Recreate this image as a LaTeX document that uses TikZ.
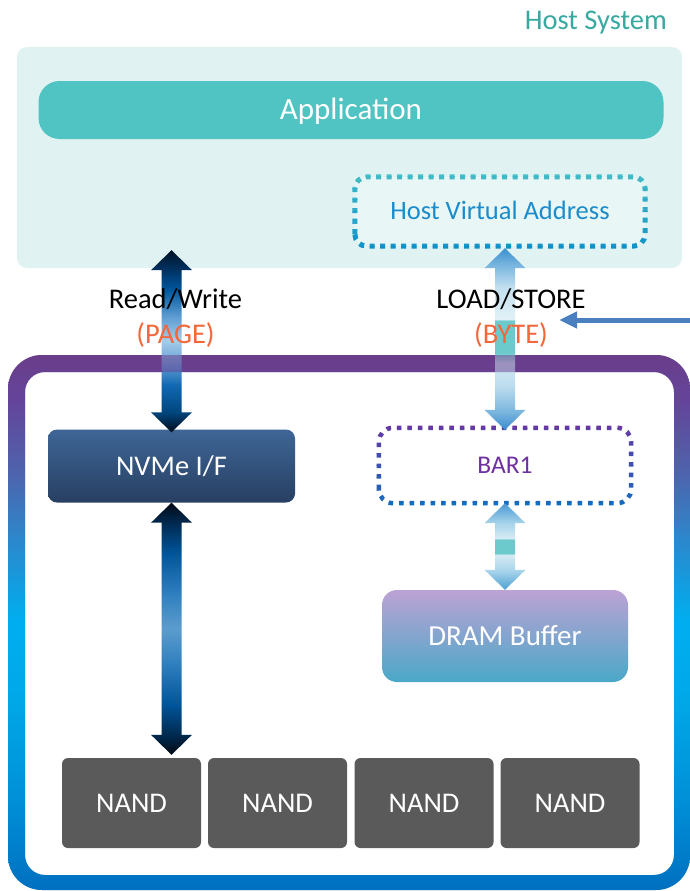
\documentclass[tikz,border=0pt]{standalone}
\usepackage{fontspec}
\setmainfont{Carlito}
\usetikzlibrary{calc,arrows.meta}

\newcommand\fsz[1]{\fontsize{#1}{#1}\selectfont}

% flat colours
\definecolor{hostbg}{HTML}{E0F3F2}
\definecolor{hvabg}{HTML}{E9F6F6}
\definecolor{appteal}{HTML}{50C3C3}
\definecolor{hostlbl}{HTML}{37A9A0}
\definecolor{hvatext}{HTML}{1A8CCB}
\definecolor{hvatop}{HTML}{4CC2C8}
\definecolor{hvabot}{HTML}{0A8CC8}
\definecolor{barpurple}{HTML}{7030A0}
\definecolor{barblue}{HTML}{0A72C2}
\definecolor{orangelbl}{HTML}{F2683A}
\definecolor{extblue}{HTML}{4A7FC0}
\definecolor{nandgray}{HTML}{5A5A5A}
\definecolor{nvmetop}{HTML}{3E6696}
\definecolor{nvmebot}{HTML}{283F62}
\definecolor{dramtop}{HTML}{BCA2D4}
\definecolor{drambot}{HTML}{4AA8C8}

% device frame gradient
\definecolor{bdA}{HTML}{0070C0}
\definecolor{bdB}{HTML}{0090D8}
\definecolor{bdC}{HTML}{00A8E8}
\definecolor{bdD}{HTML}{00AEEF}
\definecolor{bdE}{HTML}{2C88CC}
\definecolor{bdF}{HTML}{4F62AC}
\definecolor{bdG}{HTML}{64459A}
\definecolor{bdH}{HTML}{6A3D8A}
\pgfdeclareverticalshading{devborder}{100bp}{color(0bp)=(bdA); color(25bp)=(bdA);
  color(33.4bp)=(bdB); color(42.8bp)=(bdC); color(50.2bp)=(bdD); color(57.7bp)=(bdE);
  color(64.2bp)=(bdF); color(70.8bp)=(bdG); color(75bp)=(bdH); color(100bp)=(bdH)}

% host <-> NVMe arrow
\definecolor{rwK}{HTML}{000C18}
\definecolor{rwJ}{HTML}{00467E}
\definecolor{rwI}{HTML}{1068B4}
\definecolor{rwH}{HTML}{6AA2D6}
\definecolor{rwG}{HTML}{A6CCEB}
\definecolor{rwF}{HTML}{5A9AD0}
\definecolor{rwE}{HTML}{0058A0}
\definecolor{rwD}{HTML}{00305E}
\definecolor{rwC}{HTML}{021426}
\pgfdeclareverticalshading{rwup}{100bp}{color(0bp)=(rwK); color(25bp)=(rwK);
  color(30.5bp)=(rwJ); color(37.9bp)=(rwI); color(44.2bp)=(rwH); color(50.3bp)=(rwG);
  color(57.1bp)=(rwF); color(64bp)=(rwE); color(70bp)=(rwD); color(75bp)=(rwC); color(100bp)=(rwC)}

% NVMe <-> NAND arrow
\definecolor{rdA}{HTML}{000A14}
\definecolor{rdB}{HTML}{002A50}
\definecolor{rdC}{HTML}{00559A}
\definecolor{rdD}{HTML}{2F7FBF}
\definecolor{rdE}{HTML}{5C9CCD}
\pgfdeclareverticalshading{rwdown}{100bp}{color(0bp)=(rdA); color(25bp)=(rdA);
  color(29bp)=(rdB); color(35bp)=(rdC); color(43bp)=(rdD); color(50bp)=(rdE);
  color(57bp)=(rdD); color(65bp)=(rdC); color(71bp)=(rdB); color(75bp)=(rdA); color(100bp)=(rdA)}

% host virtual address <-> BAR1 arrow
\definecolor{lsA}{HTML}{3A8AD0}
\definecolor{lsB}{HTML}{7AB6DE}
\definecolor{lsC}{HTML}{BCDCEE}
\definecolor{lsD}{HTML}{D2E8F2}
\definecolor{lsT}{HTML}{6CCACC}
\definecolor{lsE}{HTML}{E2F1F7}
\definecolor{lsF}{HTML}{C4E0F0}
\definecolor{lsG}{HTML}{3A8FD0}
\pgfdeclareverticalshading{lsarrow}{100bp}{color(0bp)=(lsA); color(25bp)=(lsA);
  color(30bp)=(lsB); color(37bp)=(lsC); color(43.4bp)=(lsD); color(46.2bp)=(lsT);
  color(55.1bp)=(lsT); color(55.4bp)=(lsE); color(64bp)=(lsF); color(70.3bp)=(lsB);
  color(75bp)=(lsG); color(100bp)=(lsG)}

% BAR1 <-> DRAM arrow
\definecolor{baA}{HTML}{4AA0D4}
\definecolor{baB}{HTML}{A8D4EA}
\definecolor{baC}{HTML}{D8ECF4}
\definecolor{baD}{HTML}{4A98D4}
\pgfdeclareverticalshading{bdarrow}{100bp}{color(0bp)=(baA); color(25bp)=(baA);
  color(36bp)=(baB); color(45.7bp)=(baC); color(45.9bp)=(lsT); color(54.1bp)=(lsT);
  color(54.3bp)=(baC); color(63.4bp)=(baB); color(75bp)=(baD); color(100bp)=(baD)}

% double-headed block arrow between two tips (top, bottom)
\newcommand\fatarrow[3]{%
  \shade[shading=#1] let \p1=#2, \p2=#3 in
    (\x1,\y1) -- (\x1+20.5pt,\y1-20pt) -- (\x1+10pt,\y1-20pt) -- (\x1+10pt,\y2+20pt)
    -- (\x1+20.5pt,\y2+20pt) -- (\x1,\y2) -- (\x1-20.5pt,\y2+20pt) -- (\x1-10pt,\y2+20pt)
    -- (\x1-10pt,\y1-20pt) -- (\x1-20.5pt,\y1-20pt) -- cycle;}

% dotted outline of a node, coloured from top colour to bottom colour in bands
\newcommand\bandoutline[5]{%
  \coordinate (bandA) at ($(#1.north west)+(-12,-12)$);
  \coordinate (bandB) at ($(#1.south east)+(12,12)$);
  \foreach \k in {0,...,7}{%
    \pgfmathtruncatemacro\mixpct{100-(\k+0.5)*100/8}%
    \begin{scope}
      \clip ($(bandA)!\k/8!(bandA |- bandB)$) rectangle ($(bandA -| bandB)!{(\k+1)/8}!(bandB)$);
      \draw[#5, draw=#2!\mixpct!#3, rounded corners=#4] (#1.south west) rectangle (#1.north east);
    \end{scope}}}

\begin{document}
\begin{tikzpicture}[x=1pt,y=-1pt,
  box/.style={inner sep=0pt, text height=#1, text depth=0pt, align=center},
  box/.default=18pt,
  lbl/.style={inner sep=0pt, anchor=base, font=\fsz{28.5}},
  nandbox/.style={box, fill=nandgray, rounded corners=6pt, minimum width=139pt,
    minimum height=90pt, text=white, font=\fsz{28.5}},
  dotline/.style={line width=4.5pt, dash pattern=on 4.5pt off 6pt},
  frame/.style={shading=devborder, even odd rule},
]
\useasboundingbox (0,0) rectangle (689,891);
\fill[white] (0,0) rectangle (689,891);

% host side
\node[anchor=base east, inner sep=0pt, font=\fsz{28.5}, text=hostlbl] (hostlbl) at (667,30) {Host System};
\node[box, fill=hostbg, rounded corners=10pt, minimum width=665pt, minimum height=221pt] (host) at (349.5,157.5) {};
\node[box=19.5pt, fill=appteal, rounded corners=21pt, minimum width=625pt, minimum height=58pt,
  text=white, font=\fsz{31}] (app) at (351,110) {Application};
\node[box=16.7pt, fill=hvabg, rounded corners=12pt, minimum width=290pt, minimum height=69pt,
  text=hvatext, font=\fsz{26.5}] (hva) at (500,211.5) {Host Virtual Address};
\bandoutline{hva}{hvatop}{hvabot}{12pt}{line width=5pt, dash pattern=on 5pt off 5.5pt}

% device frame
\shade[frame] [rounded corners=34pt] (8,355) rectangle (690,890)
  [rounded corners=20pt] (25,372) rectangle (674,875);

% device blocks
\node[box, top color=nvmetop, bottom color=nvmebot, rounded corners=9pt, minimum width=247pt,
  minimum height=73pt, text=white, font=\fsz{28.5}] (nvme) at (171.5,466) {NVMe I/F};
\node[box=16.2pt, fill=white, rounded corners=14pt, minimum width=252pt, minimum height=75pt,
  text=barpurple, font=\fsz{25.5}] (bar1) at (505,465.5) {BAR1};
\bandoutline{bar1}{barpurple}{barblue}{14pt}{dotline}
\node[box=18.3pt, top color=dramtop, bottom color=drambot, rounded corners=15pt, minimum width=246pt,
  minimum height=92pt, text=white, font=\fsz{29}] (dram) at (505,636) {DRAM Buffer};
\node[nandbox] (nand1) at (131.5,803) {NAND};
\node[nandbox] (nand2) at (277.5,803) {NAND};
\node[nandbox] (nand3) at (424,803) {NAND};
\node[nandbox] (nand4) at (570,803) {NAND};

% block arrows
\fatarrow{rwup}{($(nvme.north |- host.south)+(0,-18)$)}{($(nvme.north)+(0,3)$)}
\fatarrow{rwdown}{(nvme.south)}{($(nvme.south |- nand1.north)+(0,-3)$)}
\fatarrow{lsarrow}{($(bar1.north |- hva.south)+(0,2)$)}{($(bar1.north)+(0,2)$)}
\fatarrow{bdarrow}{(bar1.south)}{(dram.north)}

% frame seen through the arrows
\shade[frame, opacity=0.5] [rounded corners=34pt] (8,355) rectangle (690,890)
  [rounded corners=20pt] (25,372) rectangle (674,875);

% access labels
\node[lbl] (rwlbl) at (175.5,308) {Read/Write};
\node[lbl, text=orangelbl] (pagelbl) at (175.5,343) {(PAGE)};
\node[lbl] (lslbl) at (511,308) {LOAD/STORE};
\node[lbl, text=orangelbl] (bytelbl) at (511,343) {(BYTE)};

% incoming pointer from the right
\coordinate (extin) at (692,320);
\coordinate (extout) at (559,320);
\draw[line width=5pt, extblue, -{Triangle[length=18pt,width=16pt]}] (extin) -- (extout);
\end{tikzpicture}
\end{document}
